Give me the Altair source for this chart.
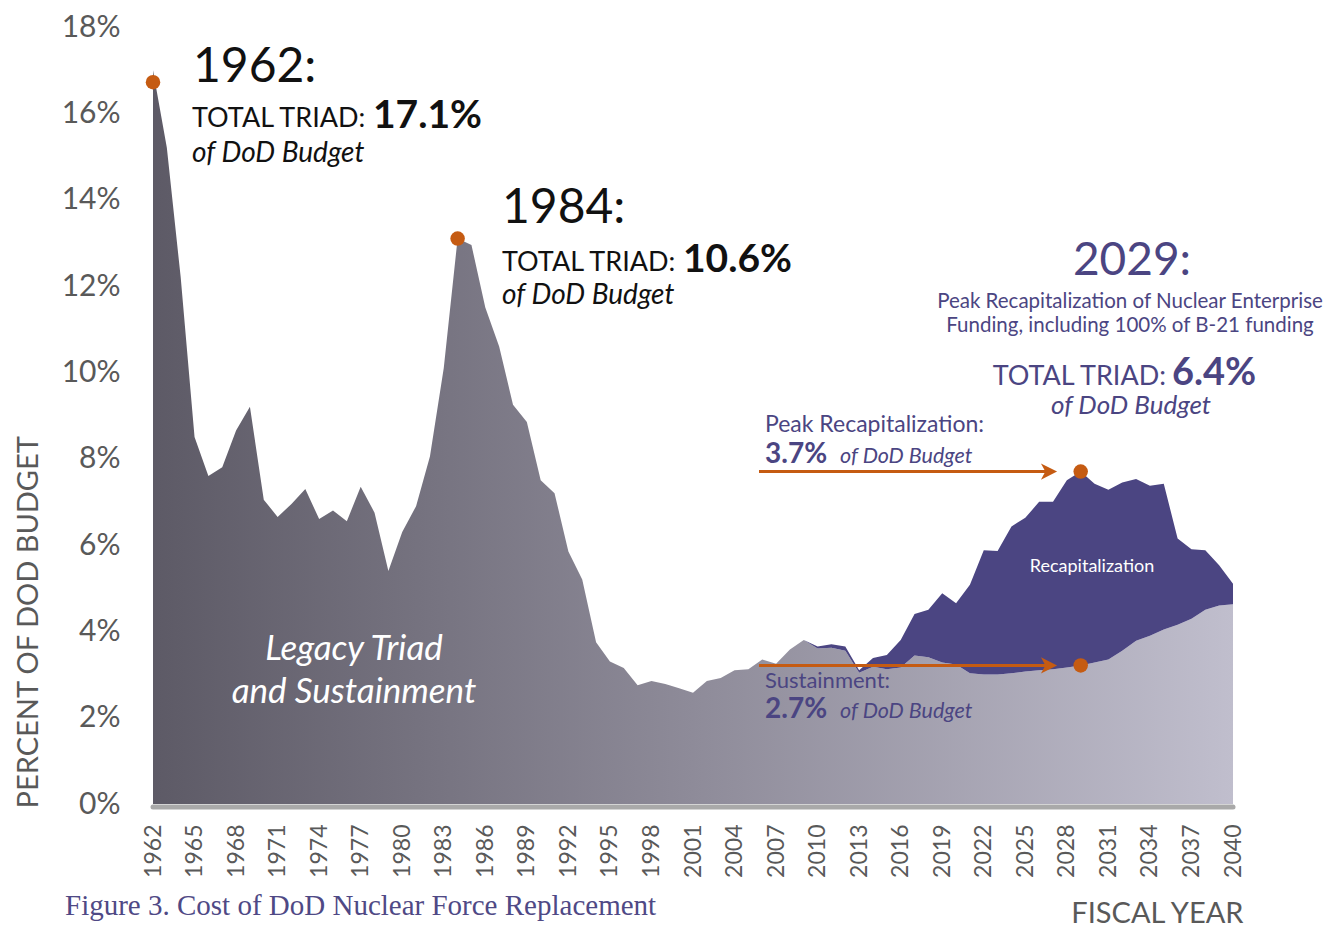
import altair as alt
import pandas as pd

# ---------------- data ----------------
years = list(range(1962, 2041))

total_triad = [
    17.0, 15.2, 12.2, 8.5, 7.6, 7.8, 8.65, 9.2, 7.05, 6.65,      # 1962-1971
    6.95, 7.3, 6.6, 6.8, 6.55, 7.35, 6.75, 5.4, 6.3, 6.9,         # 1972-1981
    8.05, 10.1, 13.1, 12.95, 11.5, 10.6, 9.25, 8.85, 7.5, 7.2,    # 1982-1991
    5.85, 5.2, 3.75, 3.3, 3.15, 2.75, 2.85, 2.78, 2.68, 2.58,     # 1992-2001
    2.85, 2.92, 3.1, 3.12, 3.35, 3.25, 3.58, 3.8, 3.65, 3.7,      # 2002-2011
    3.65, 3.1, 3.38, 3.45, 3.8, 4.4, 4.5, 4.88, 4.65, 5.08,       # 2012-2021
    5.88, 5.86, 6.43, 6.63, 7.0, 7.0, 7.5, 7.7, 7.42, 7.28,       # 2022-2031
    7.45, 7.53, 7.37, 7.42, 6.15, 5.9, 5.88, 5.53, 5.1,           # 2032-2040
]

sustainment = [
    17.0, 15.2, 12.2, 8.5, 7.6, 7.8, 8.65, 9.2, 7.05, 6.65,
    6.95, 7.3, 6.6, 6.8, 6.55, 7.35, 6.75, 5.4, 6.3, 6.9,
    8.05, 10.1, 13.1, 12.95, 11.5, 10.6, 9.25, 8.85, 7.5, 7.2,
    5.85, 5.2, 3.75, 3.3, 3.15, 2.75, 2.85, 2.78, 2.68, 2.58,
    2.85, 2.92, 3.1, 3.12, 3.35, 3.25, 3.58, 3.8, 3.6, 3.62,
    3.55, 3.04, 3.18, 3.12, 3.16, 3.44, 3.4, 3.28, 3.23, 3.03,
    3.0, 3.0, 3.03, 3.07, 3.1, 3.12, 3.16, 3.21, 3.28, 3.35,
    3.55, 3.78, 3.9, 4.04, 4.15, 4.29, 4.5, 4.6, 4.63,
]

x_ticks = list(range(1962, 2041, 3))
y_ticks = list(range(0, 19, 2))

df = pd.DataFrame({"year": years, "total": total_triad, "sustain": sustainment})
df_recap = df[df["year"] >= 2009]

peak_1962 = pd.DataFrame({"year": [1962], "val": [total_triad[years.index(1962)]]})
peaks_other = pd.DataFrame({
    "year": [1984, 2029, 2029],
    "val": [
        total_triad[years.index(1984)],
        total_triad[years.index(2029)],
        sustainment[years.index(2029)],
    ],
})

# ---------------- style ----------------
FONT = "Lato"
SERIF = "Liberation Serif"
GREY = "#595959"
PURPLE = "#4b4582"
ORANGE = "#c55b12"
BLACK = "#111111"

W, H = 1080, 777
X0, Y0 = 153, 27  # page position of plot origin

xs = alt.Scale(domain=[1962, 2040], nice=False, zero=False)
ys = alt.Scale(domain=[0, 18], nice=False)

grad = alt.Gradient(
    gradient="linear",
    stops=[
        alt.GradientStop(color="#5d5a66", offset=0),
        alt.GradientStop(color="#8e8b99", offset=0.5),
        alt.GradientStop(color="#c0becd", offset=1),
    ],
    x1=0, x2=1, y1=0, y2=0,
)

x_axis = alt.Axis(
    values=x_ticks, format="d", labelAngle=270, labelFontSize=23, labelFont=FONT,
    labelColor=GREY, labelPadding=20, domain=False, ticks=False, grid=False,
    title="FISCAL YEAR", titleFont=FONT, titleFontSize=29, titleFontWeight="normal",
    titleColor=GREY, titleX=1243 - X0, titleY=922 - (Y0 + H), titleAlign="right",
    titleBaseline="alphabetic", labelOverlap=False,
)
y_axis = alt.Axis(
    values=y_ticks, labelExpr="datum.value + '%'", labelFontSize=30, labelFont=FONT,
    labelColor=GREY, labelPadding=33, domain=False, ticks=False, grid=False,
    title="PERCENT OF DOD BUDGET", titleFont=FONT, titleFontSize=29,
    titleFontWeight="normal", titleColor=GREY, titleAngle=270,
    titleX=28 - X0, titleY=808 - Y0, titleAlign="left", titleBaseline="middle",
)

sus_area = alt.Chart(df).mark_area(color=grad).encode(
    x=alt.X("year:Q", scale=xs, axis=x_axis),
    y=alt.Y("sustain:Q", scale=ys, axis=y_axis),
)

recap_area = alt.Chart(df_recap).mark_area(color=PURPLE).encode(
    x=alt.X("year:Q", scale=xs),
    y=alt.Y("total:Q", scale=ys),
    y2="sustain:Q",
)

base_bar = alt.Chart(pd.DataFrame({"a": [1962], "b": [2040], "v": [0]})).mark_rule(
    color="#a9a9a9", strokeWidth=5, strokeCap="round", yOffset=3
).encode(x=alt.X("a:Q", scale=xs), x2="b:Q", y=alt.Y("v:Q", scale=ys))

dot_1962 = alt.Chart(peak_1962).mark_circle(
    color=ORANGE, opacity=1, size=210, yOffset=12
).encode(x=alt.X("year:Q", scale=xs), y=alt.Y("val:Q", scale=ys))

dots = alt.Chart(peaks_other).mark_circle(color=ORANGE, opacity=1, size=210).encode(
    x=alt.X("year:Q", scale=xs), y=alt.Y("val:Q", scale=ys)
)

arrow_df = peaks_other.iloc[1:3]
arrow_lines = alt.Chart(arrow_df).mark_rule(color=ORANGE, strokeWidth=3).encode(
    x=alt.value(759 - X0), x2=alt.value(1050 - X0), y=alt.Y("val:Q", scale=ys)
)
arrow_heads = alt.Chart(arrow_df).mark_point(
    shape="M -1 -1 L 1 0 L -1 1 L -0.45 0 Z", filled=True, color=ORANGE,
    opacity=1, size=260, strokeWidth=0
).encode(x=alt.value(1049 - X0), y=alt.Y("val:Q", scale=ys))


def T(text, x, y, size, color, weight="normal", style="normal", align="left", font=FONT):
    return alt.Chart(pd.DataFrame({"t": [text]})).mark_text(
        align=align, baseline="alphabetic", fontSize=size, font=font,
        fontWeight=weight, fontStyle=style, color=color,
    ).encode(x=alt.value(x - X0), y=alt.value(y - Y0), text="t:N")


texts = [
    # 1962
    T("1962:", 193, 82, 48, BLACK),
    T("TOTAL TRIAD:", 192, 127, 27, BLACK),
    T("17.1%", 373, 128, 39, BLACK, weight="bold"),
    T("of DoD Budget", 192, 162, 28, BLACK, style="italic"),
    # 1984
    T("1984:", 502, 223, 48, BLACK),
    T("TOTAL TRIAD:", 502, 271, 27, BLACK),
    T("10.6%", 683, 272, 39, BLACK, weight="bold"),
    T("of DoD Budget", 502, 304, 28, BLACK, style="italic"),
    # 2029
    T("2029:", 1132, 275, 46, PURPLE, align="center"),
    T("Peak Recapitalization of Nuclear Enterprise", 1130, 308, 20.5, PURPLE, align="center"),
    T("Funding, including 100% of B-21 funding", 1130, 332, 20.5, PURPLE, align="center"),
    T("TOTAL TRIAD:", 1166, 385, 27, PURPLE, align="right"),
    T("6.4%", 1172, 385, 38, PURPLE, weight="bold"),
    T("of DoD Budget", 1131, 414, 26, PURPLE, style="italic", align="center"),
    # peak recap
    T("Peak Recapitalization:", 765, 432, 23, PURPLE),
    T("3.7%", 765, 463, 28, PURPLE, weight="bold"),
    T("of DoD Budget", 840, 463, 21.5, PURPLE, style="italic"),
    # sustainment
    T("Sustainment:", 765, 688, 22, PURPLE),
    T("2.7%", 765, 718, 28, PURPLE, weight="bold"),
    T("of DoD Budget", 840, 718, 21.5, PURPLE, style="italic"),
    # in-area labels
    T("Recapitalization", 1092, 572, 18, "#ffffff", align="center"),
    T("Legacy Triad", 354, 660, 35, "#ffffff", style="italic", align="center"),
    T("and Sustainment", 354, 703, 35, "#ffffff", style="italic", align="center"),
    # caption
    T("Figure 3. Cost of DoD Nuclear Force Replacement", 65, 915, 29, "#4f4985", font=SERIF),
]

chart = alt.layer(
    sus_area, recap_area, base_bar, arrow_lines, arrow_heads, dot_1962, dots, *texts
).properties(
    width=W, height=H,
    padding={"left": X0 - 8, "top": Y0 - 8, "right": 100, "bottom": 126},
    autosize=alt.AutoSizeParams(type="none"),
).configure_view(stroke=None)

chart.save("out.html", embed_options={"renderer": "svg", "actions": False})
